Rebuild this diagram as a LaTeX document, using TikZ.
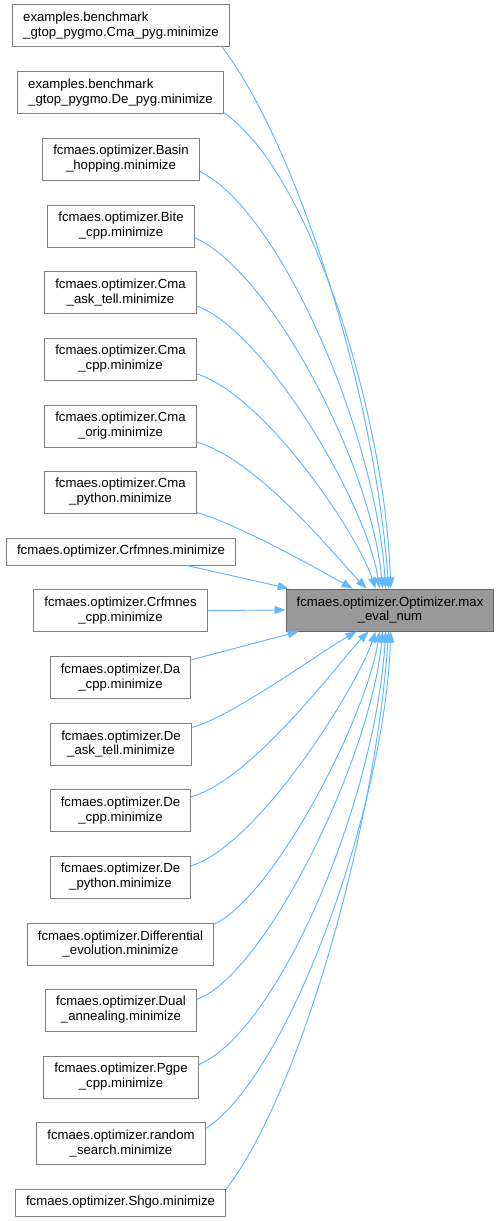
\documentclass[tikz,border=0pt]{standalone}
\usepackage{fontspec}
\setmainfont{Liberation Sans}
\usepackage{tikz}
\usetikzlibrary{arrows.meta,calc}
\definecolor{callblue}{HTML}{63B8FF}
\definecolor{boxline}{HTML}{7F7F7F}
\definecolor{focusfill}{HTML}{999999}
\definecolor{focusline}{HTML}{666666}

\begin{document}
\begin{tikzpicture}[x=0.02cm,y=-0.02cm,font=\fontsize{7.5}{8.5}\selectfont,
  fn/.style={draw=boxline,fill=white,line width=0.55pt,inner xsep=0.21cm,inner ysep=0pt,
    minimum height=0.84cm,align=center},
  fnone/.style={fn,minimum height=0.54cm},
  focus/.style={fn,fill=focusfill,draw=focusline},
  call/.style={draw=callblue,line width=0.55pt,-{Triangle[length=0.22cm,width=0.16cm]}}]
\path[use as bounding box] (0,0) rectangle (500,1221);
% callers
\node[fn,align=left] (cmapyg) at (121,25.5) {examples.benchmark\\\_gtop\_pygmo.Cma\_pyg.minimize};
\node[fn,align=left] (depyg) at (120.5,92.5) {examples.benchmark\\\_gtop\_pygmo.De\_pyg.minimize};
\node[fn] (basin) at (121,159) {fcmaes.optimizer.Basin\\\_hopping.minimize};
\node[fn] (bite) at (121,226) {fcmaes.optimizer.Bite\\\_cpp.minimize};
\node[fn] (cmaask) at (120.5,292.5) {fcmaes.optimizer.Cma\\\_ask\_tell.minimize};
\node[fn] (cmacpp) at (120.5,359) {fcmaes.optimizer.Cma\\\_cpp.minimize};
\node[fn] (cmaorig) at (120.5,426) {fcmaes.optimizer.Cma\\\_orig.minimize};
\node[fn] (cmapython) at (120.5,492) {fcmaes.optimizer.Cma\\\_python.minimize};
\node[fnone] (crfmnes) at (121,551.5) {fcmaes.optimizer.Crfmnes.minimize};
\node[fn] (crfmnescpp) at (120.5,610.5) {fcmaes.optimizer.Crfmnes\\\_cpp.minimize};
\node[fn] (dacpp) at (120.5,677.5) {fcmaes.optimizer.Da\\\_cpp.minimize};
\node[fn] (deask) at (121,744) {fcmaes.optimizer.De\\\_ask\_tell.minimize};
\node[fn] (decpp) at (120.5,810.5) {fcmaes.optimizer.De\\\_cpp.minimize};
\node[fn] (depython) at (120.5,877) {fcmaes.optimizer.De\\\_python.minimize};
\node[fn] (diffevo) at (120.5,944) {fcmaes.optimizer.Differential\\\_evolution.minimize};
\node[fn] (dual) at (121,1010) {fcmaes.optimizer.Dual\\\_annealing.minimize};
\node[fn] (pgpe) at (121,1077) {fcmaes.optimizer.Pgpe\\\_cpp.minimize};
\node[fn] (randsearch) at (121,1143.5) {fcmaes.optimizer.random\\\_search.minimize};
\node[fnone] (shgo) at (120.5,1202.5) {fcmaes.optimizer.Shgo.minimize};
% callee
\node[focus] (maxeval) at (390,610) {fcmaes.optimizer.Optimizer.max\\\_eval\_num};
% calls from above
\draw[call] (cmapyg.-12) .. controls +(78,103) and +(-13,-188) .. ($(maxeval.north west)+(103,0)$);
\draw[call] (depyg.-11) .. controls +(88,61) and +(-5,-168) .. ($(maxeval.north west)+(105,0)$);
\draw[call] (basin.-9) .. controls +(79,38) and +(-10,-158) .. ($(maxeval.north west)+(100,0)$);
\draw[call] (bite.-9) .. controls +(74,32) and +(-12,-128) .. ($(maxeval.north west)+(97,0)$);
\draw[call] (cmaask.-10) .. controls +(67,24) and +(-14,-88) .. ($(maxeval.north west)+(94,0)$);
\draw[call] (cmacpp.-11) .. controls +(67,21) and +(-20,-58) .. ($(maxeval.north west)+(90,0)$);
\draw[call] (cmaorig.-12) .. controls +(62,17) and +(-26,-26) .. ($(maxeval.north west)+(81,0)$);
\draw[call] (cmapython.-15) .. controls +(42,12) and +(-32,-18) .. ($(maxeval.north west)+(67,0)$);
\draw[call] (crfmnes.-12) -- ($(maxeval.north west)+(3,0)$);
\draw[call] (crfmnescpp.east) -- (maxeval.west);
% calls from below
\draw[call] (dacpp.14) -- ($(maxeval.south west)+(13,0)$);
\draw[call] (deask.13) .. controls +(42,-12) and +(-32,18) .. ($(maxeval.south west)+(71,0)$);
\draw[call] (decpp.11) .. controls +(62,-17) and +(-26,26) .. ($(maxeval.south west)+(83,0)$);
\draw[call] (depython.9) .. controls +(67,-21) and +(-20,58) .. ($(maxeval.south west)+(90,0)$);
\draw[call] (diffevo.12) .. controls +(60,-28) and +(-14,88) .. ($(maxeval.south west)+(94,0)$);
\draw[call] (dual.8) .. controls +(68,-24) and +(-12,128) .. ($(maxeval.south west)+(97,0)$);
\draw[call] (pgpe.9) .. controls +(81,-35) and +(-10,168) .. ($(maxeval.south west)+(100,0)$);
\draw[call] (randsearch.10) .. controls +(85,-55) and +(-5,170) .. ($(maxeval.south west)+(105,0)$);
\draw[call] (shgo.7) .. controls +(78,-103) and +(-13,188) .. ($(maxeval.south west)+(103,0)$);
\end{tikzpicture}
\end{document}
